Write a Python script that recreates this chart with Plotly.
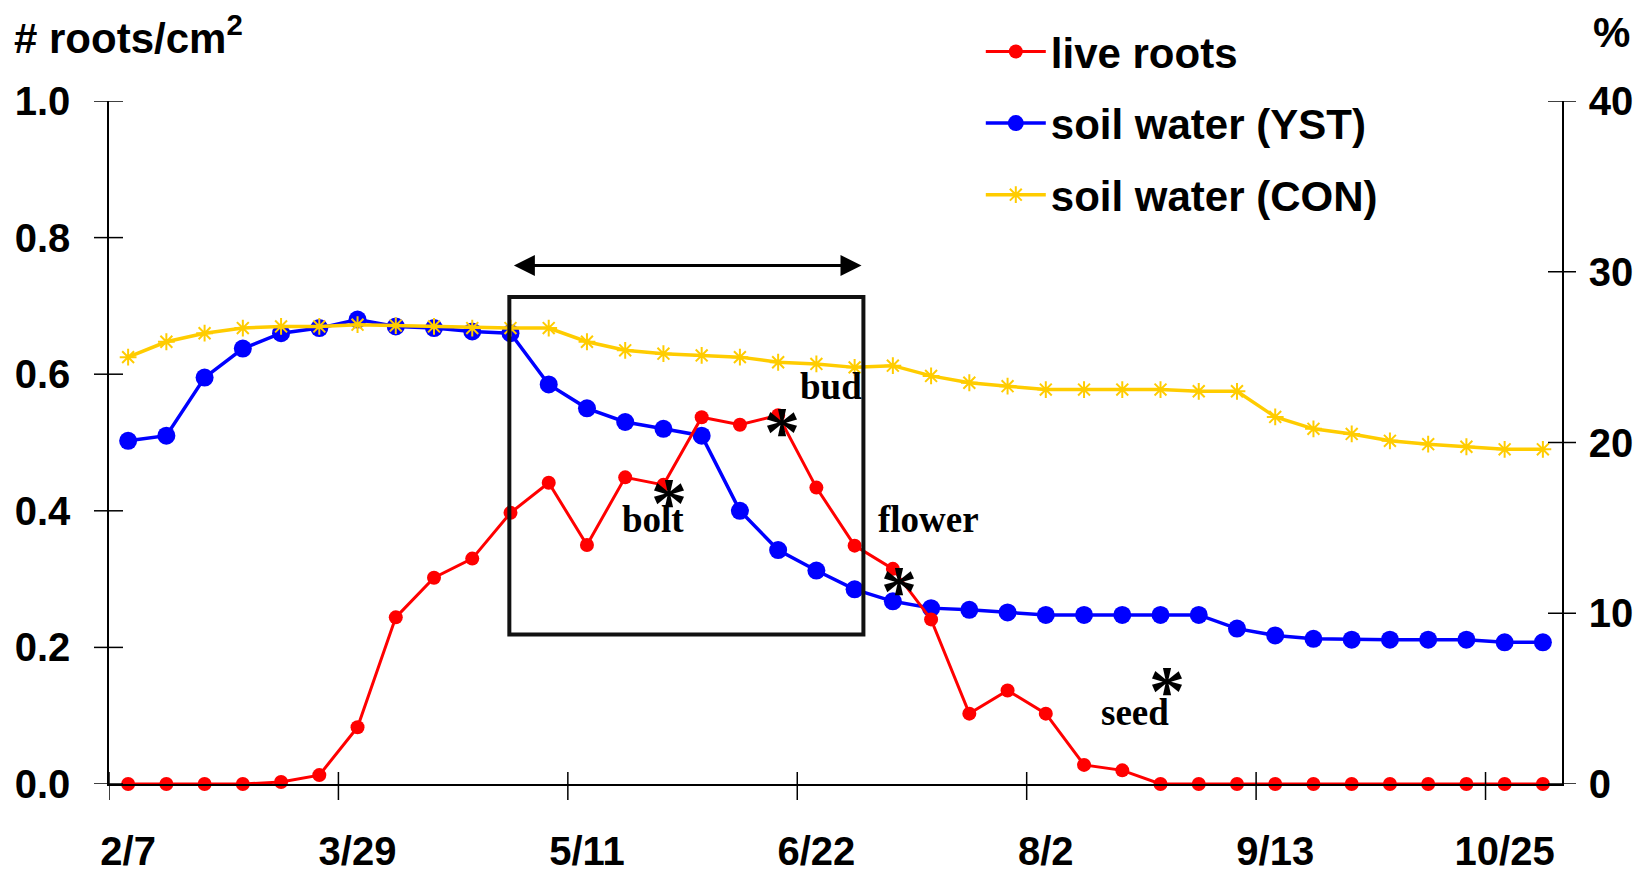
import plotly.graph_objects as go

# ---------------- data ----------------
sample_idx = list(range(38))
tick_idx = [0, 6, 12, 18, 24, 30, 36]
tick_labels = ["2/7", "3/29", "5/11", "6/22", "8/2", "9/13", "10/25"]

live_roots = [0.0, 0.0, 0.0, 0.0, 0.003, 0.013, 0.083, 0.244, 0.302, 0.330,
              0.397, 0.441, 0.350, 0.449, 0.438, 0.537, 0.526, 0.540, 0.434, 0.349,
              0.315, 0.241, 0.103, 0.137, 0.103, 0.028, 0.020, 0.0, 0.0, 0.0,
              0.0, 0.0, 0.0, 0.0, 0.0, 0.0, 0.0, 0.0]

soil_yst = [20.1, 20.4, 23.8, 25.5, 26.4, 26.7, 27.2, 26.8, 26.7, 26.5,
            26.4, 23.4, 22.0, 21.2, 20.8, 20.4, 16.0, 13.7, 12.5, 11.4,
            10.7, 10.3, 10.2, 10.05, 9.9, 9.9, 9.9, 9.9, 9.9, 9.1,
            8.7, 8.5, 8.45, 8.45, 8.45, 8.45, 8.3, 8.3]

soil_con = [25.0, 25.9, 26.4, 26.7, 26.8, 26.8, 26.9, 26.85, 26.8, 26.7,
            26.7, 26.7, 25.9, 25.4, 25.2, 25.1, 25.0, 24.7, 24.6, 24.4,
            24.5, 23.9, 23.5, 23.3, 23.1, 23.1, 23.1, 23.1, 23.0, 23.0,
            21.5, 20.8, 20.5, 20.1, 19.9, 19.75, 19.6, 19.6]

left_ticks = [0.0, 0.2, 0.4, 0.6, 0.8, 1.0]
left_tick_text = ["0.0", "0.2", "0.4", "0.6", "0.8", "1.0"]
right_ticks = [0, 10, 20, 30, 40]

stage_labels = ["bud", "bolt", "flower", "seed"]
stage_x = [18.38, 13.74, 20.93, 26.32]
stage_y = [0.582, 0.387, 0.387, 0.105]
star_x = [17.1, 14.15, 20.16, 27.17]
star_y = [0.529, 0.424, 0.296, 0.150]

SANS = "Liberation Sans, Arial, sans-serif"
SERIF = "Liberation Serif, Times New Roman, serif"

fig = go.Figure()

fig.add_trace(go.Scatter(
    x=sample_idx, y=soil_yst, name="soil water (YST)", yaxis="y",
    mode="lines+markers", line=dict(color="#0000FF", width=3.5),
    marker=dict(symbol="circle", size=18, color="#0000FF"),
    cliponaxis=False, legendrank=2, legendgroup="b"))
fig.add_trace(go.Scatter(
    x=sample_idx, y=soil_con, name="soil water (CON)", yaxis="y",
    mode="lines+markers", line=dict(color="#FFCC00", width=3.5),
    marker=dict(symbol="asterisk-open", size=14, line=dict(color="#FFCC00", width=2)),
    cliponaxis=False, legendrank=3, legendgroup="c"))
fig.add_trace(go.Scatter(
    x=sample_idx, y=live_roots, name="live roots", yaxis="y2",
    mode="lines+markers", line=dict(color="#FF0000", width=3),
    marker=dict(symbol="circle", size=14, color="#FF0000"),
    cliponaxis=False, legendrank=1, legendgroup="a"))

shapes = []
# crossing tick marks on x axis (between categories)
for k in range(len(tick_idx)):
    b = tick_idx[k] - 0.5
    shapes.append(dict(type="line", xref="x", x0=b, x1=b, yref="paper",
                       ysizemode="pixel", yanchor=0, y0=-16, y1=12,
                       line=dict(color="black", width=1.5)))
for v in left_ticks:
    shapes.append(dict(type="line", yref="y2", y0=v, y1=v, xref="paper",
                       xsizemode="pixel", xanchor=0, x0=-15, x1=14,
                       line=dict(color="black", width=1.5)))
for v in right_ticks:
    shapes.append(dict(type="line", yref="y", y0=v, y1=v, xref="paper",
                       xsizemode="pixel", xanchor=1, x0=-14, x1=14,
                       line=dict(color="black", width=1.5)))
# box around the bolt-bud period
shapes.append(dict(type="rect", xref="x", yref="y2", x0=9.97, x1=19.23, y0=0.219, y1=0.713,
                   line=dict(color="#111111", width=4)))

annotations = []
for t, x, y in zip(stage_labels, stage_x, stage_y):
    annotations.append(dict(text=t, x=x, y=y, xref="x", yref="y2", showarrow=False,
                            font=dict(family=SERIF, size=37, color="black", weight=700)))
for x, y in zip(star_x, star_y):
    annotations.append(dict(text="*", x=x, y=y, xref="x", yref="y2", showarrow=False,
                            yshift=-9,
                            font=dict(family=SERIF, size=72, color="black", weight=700)))
# double arrow
annotations.append(dict(x=19.18, y=0.759, ax=10.05, ay=0.759, xref="x", yref="y2",
                        axref="x", ayref="y2", showarrow=True, arrowhead=2, arrowside="end+start",
                        arrowsize=1.4, arrowwidth=3, arrowcolor="black", text=""))
annotations.append(dict(text="# roots/cm<sup>2</sup>", xref="paper", yref="paper",
                        x=-0.067, y=1.097, xanchor="left", yanchor="middle", showarrow=False,
                        font=dict(family=SANS, size=42, color="black", weight=700)))
annotations.append(dict(text="%", xref="paper", yref="paper",
                        x=1.02, y=1.1, xanchor="left", yanchor="middle", showarrow=False,
                        font=dict(family=SANS, size=42, color="black", weight=700)))

fig.update_layout(
    width=1649, height=872,
    margin=dict(l=109, r=87, t=101, b=88, autoexpand=False),
    paper_bgcolor="white", plot_bgcolor="white",
    font=dict(family=SANS, color="black"),
    showlegend=True,
    legend=dict(x=0.6, y=1.122, xanchor="left", yanchor="top",
                font=dict(family=SANS, size=42, color="black", weight=700),
                traceorder="grouped", tracegroupgap=14, itemwidth=60,
                bgcolor="rgba(0,0,0,0)"),
    xaxis=dict(range=[-0.5, 37.5], tickmode="array", tickvals=tick_idx, ticktext=tick_labels,
               ticks="", showgrid=False, zeroline=False, showline=True, linecolor="black",
               linewidth=1.5, ticklabelstandoff=31, automargin=False,
               tickfont=dict(family=SANS, size=40, color="black", weight=700)),
    yaxis=dict(range=[0, 40], side="right", tickmode="array", tickvals=right_ticks,
               ticks="", showgrid=False, zeroline=False, showline=True, linecolor="black",
               linewidth=1.5, ticklabelstandoff=17, automargin=False,
               tickfont=dict(family=SANS, size=40, color="black", weight=700)),
    yaxis2=dict(range=[0, 1], side="left", overlaying="y", tickmode="array", tickvals=left_ticks,
                ticktext=left_tick_text, ticks="", showgrid=False, zeroline=False, showline=True,
                linecolor="black", linewidth=1.5, ticklabelstandoff=29, automargin=False,
                tickfont=dict(family=SANS, size=40, color="black", weight=700)),
    shapes=shapes, annotations=annotations,
)

fig.write_html("out.html")
